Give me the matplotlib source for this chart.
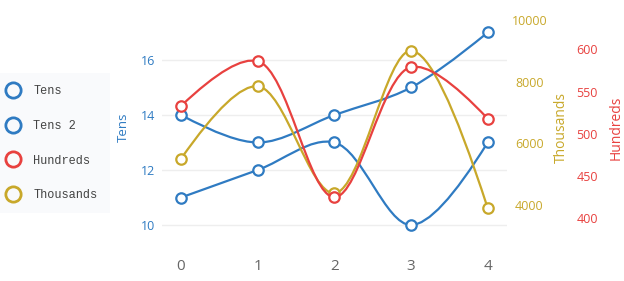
import matplotlib
matplotlib.use("Agg")
import matplotlib.pyplot as plt
from matplotlib.lines import Line2D
from matplotlib.path import Path
from matplotlib.patches import PathPatch
import numpy as np

plt.rcParams['font.family'] = ['Open Sans', 'DejaVu Sans']

x = [0, 1, 2, 3, 4]
tens = [11, 12, 13, 10, 13]
tens2 = [14, 13, 14, 15, 17]
hundreds = [533, 586, 425, 579, 518]
thousands = [5500, 7850, 4380, 9000, 3900]

thousands_ticks = [4000, 6000, 8000, 10000]
hundreds_ticks = [400, 450, 500, 550, 600]
tens_ticks = [10, 12, 14, 16]

BLUE = '#2f7bc2'
RED = '#e8413f'
GOLD = '#c8a82a'


def tangent(p0, p1, p2, smooth=1.0):
	# plotly style spline tangent, done in pixel space
	d1 = p0 - p1
	d2 = p2 - p1
	d1a = np.hypot(*d1) ** 0.5
	d2a = np.hypot(*d2) ** 0.5
	num = (d2a ** 2 * d1 - d1a ** 2 * d2) * smooth
	den1 = 3 * d2a * (d1a + d2a)
	den2 = 3 * d1a * (d1a + d2a)
	return p1 + num / den1, p1 - num / den2


def spline(ax, xs, ys, color):
	pts = ax.transData.transform(np.column_stack([xs, ys]))
	tans = [tangent(pts[i - 1], pts[i], pts[i + 1]) for i in range(1, len(pts) - 1)]
	verts = [pts[0], tans[0][0], pts[1]]
	codes = [Path.MOVETO, Path.CURVE3, Path.CURVE3]
	for i in range(2, len(pts) - 1):
		verts += [tans[i - 2][1], tans[i - 1][0], pts[i]]
		codes += [Path.CURVE4] * 3
	verts += [tans[-1][1], pts[-1]]
	codes += [Path.CURVE3] * 2
	verts = ax.transData.inverted().transform(np.array(verts))
	ax.add_patch(PathPatch(Path(verts, codes), fill=False, edgecolor=color, lw=1.6, zorder=2))
	ax.plot(xs, ys, 'o', ms=7.5, mfc='white', mec=color, mew=1.6, zorder=3)


fig = plt.figure(figsize=(6.24, 2.81), dpi=100)
ax = fig.add_axes([162 / 624, 1 - 245 / 281, 345 / 624, 230 / 281])
ax2 = ax.twinx()
ax3 = ax.twinx()

ax.set_xlim(-0.248, 4.252)
ax.set_ylim(9.273, 17.636)
ax2.set_ylim(2703, 10159)
ax3.set_ylim(368.4, 640.6)

for a in (ax, ax2, ax3):
	for s in a.spines.values():
		s.set_visible(False)
	a.tick_params(length=0)

ax.set_xticks(x)
ax.tick_params(axis='x', labelsize=11, colors='#666666', pad=10)
ax.set_yticks(tens_ticks)
ax.tick_params(axis='y', labelsize=9, labelcolor=BLUE, pad=5)
ax.grid(axis='y', color='#eeeeee', lw=1)
ax.set_ylabel('Tens', color=BLUE, fontsize=9.5)
ax.yaxis.set_label_coords(-0.093, 0.51)

ax2.set_yticks(thousands_ticks)
ax2.tick_params(axis='y', labelsize=9, labelcolor=GOLD, pad=16)
for t in ax2.get_yticklabels():
	t.set_ha('center')
ax2.set_ylabel('Thousands', color=GOLD, fontsize=10)
ax2.yaxis.set_label_coords(1.136, 0.51)

ax3.spines['right'].set_position(('outward', 46))
ax3.set_yticks(hundreds_ticks)
ax3.tick_params(axis='y', labelsize=9, labelcolor=RED, pad=4)
ax3.set_ylabel('Hundreds', color=RED, fontsize=10)
ax3.yaxis.set_label_coords(1.296, 0.51)

ax2.set_zorder(ax.get_zorder() + 1)
ax3.set_zorder(ax.get_zorder() + 2)

spline(ax, x, tens, BLUE)
spline(ax, x, tens2, BLUE)
spline(ax3, x, hundreds, RED)
spline(ax2, x, thousands, GOLD)

handles = [Line2D([], [], ls='none', marker='o', ms=11, mfc='none', mec=c, mew=2)
	for c in (BLUE, BLUE, RED, GOLD)]
leg = fig.legend(handles, ['Tens', 'Tens 2', 'Hundreds', 'Thousands'],
	loc='upper left', bbox_to_anchor=(0, 1 - 73 / 281), bbox_transform=fig.transFigure,
	prop={'family': 'Liberation Mono', 'size': 8.6}, labelcolor='#444444',
	labelspacing=1.91, handlelength=0.2, handletextpad=1.6, borderpad=1.0,
	borderaxespad=0, frameon=True, fancybox=False)
leg.get_frame().set_facecolor('#f8f9fc')
leg.get_frame().set_edgecolor('none')

fig.savefig('out.png', dpi=100)
